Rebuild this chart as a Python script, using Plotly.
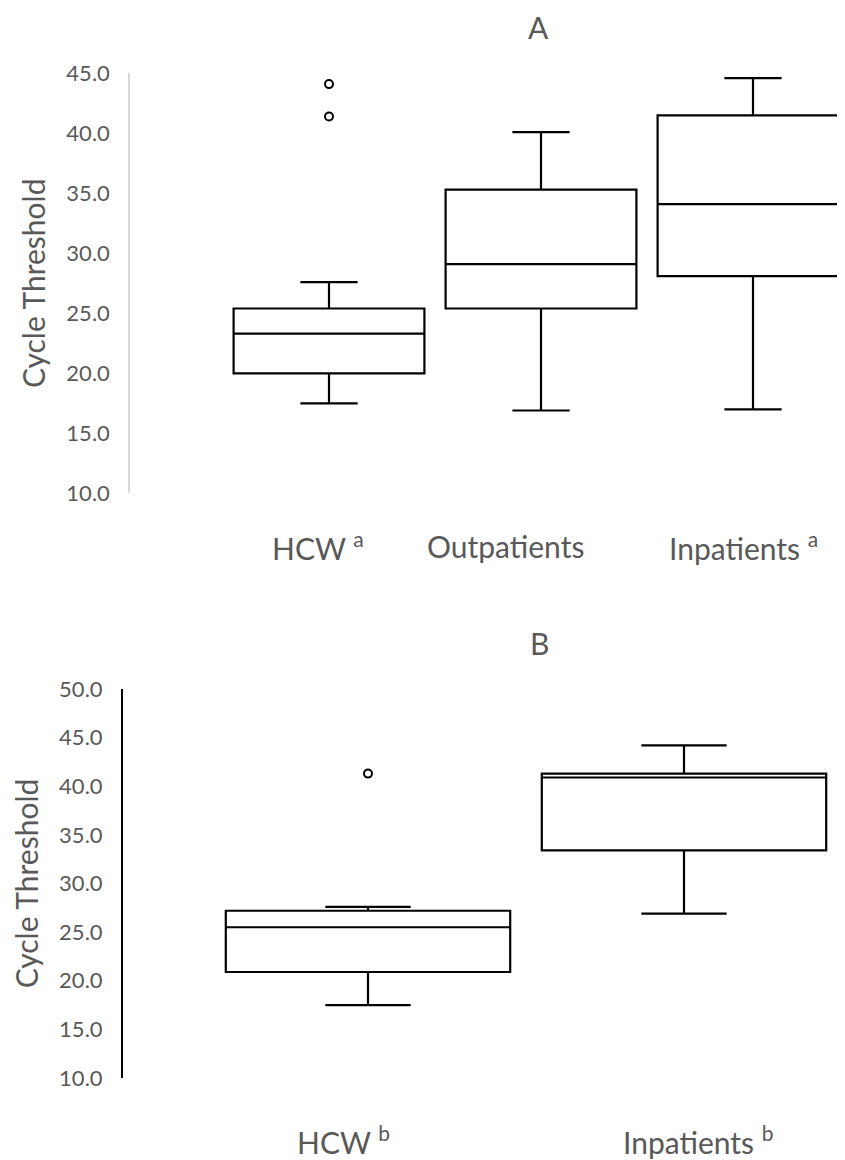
import plotly.graph_objects as go

# ---------------- data ----------------
# Panel A
a_groups = ["HCW", "Outpatients", "Inpatients"]
a_labels = ["HCW <sup>a</sup>", "Outpatients", "Inpatients <sup>a</sup>"]
a_q1 = [20.0, 25.4, 28.1]
a_median = [23.3, 29.1, 34.1]
a_q3 = [25.4, 35.3, 41.5]
a_lower = [17.5, 16.9, 17.0]
a_upper = [27.6, 40.1, 44.6]
a_outlier_group = ["HCW", "HCW"]
a_outliers = [44.1, 41.4]

# Panel B
b_groups = ["HCW", "Inpatients"]
b_labels = ["HCW <sup>b</sup>", "Inpatients <sup>b</sup>"]
b_q1 = [20.9, 33.4]
b_median = [25.5, 40.9]
b_q3 = [27.2, 41.3]
b_lower = [17.5, 26.9]
b_upper = [27.6, 44.2]
b_outlier_group = ["HCW"]
b_outliers = [41.3]

a_ticks = [10, 15, 20, 25, 30, 35, 40, 45]
b_ticks = [10, 15, 20, 25, 30, 35, 40, 45, 50]

# ---------------- style ----------------
FONT = "Lato"
GREY = "#595959"
PAGE_W, PAGE_H = 845, 1160
OFF = 8                      # default body margin of the html page
W, H = PAGE_W - OFF, PAGE_H - OFF


def py(p):
    """page pixel (from top) -> paper y"""
    return 1 - (p - OFF) / H


def px(p):
    return (p - OFF) / W


fig = go.Figure()


def add_panel(groups, q1, med, q3, lo, hi, og, ov, xa, ya):
    pos = {g: i for i, g in enumerate(groups)}
    for i, g in enumerate(groups):
        fig.add_trace(go.Box(
            x=[pos[g]], q1=[q1[i]], median=[med[i]], q3=[q3[i]],
            lowerfence=[lo[i]], upperfence=[hi[i]],
            width=0.9, whiskerwidth=0.3, boxpoints=False,
            line=dict(color="black", width=2.2), fillcolor="rgba(255,255,255,0)",
            xaxis=xa, yaxis=ya, showlegend=False, hoverinfo="skip",
        ))
    fig.add_trace(go.Scatter(
        x=[pos[g] for g in og], y=ov, mode="markers",
        marker=dict(symbol="circle-open", size=8, color="black", line=dict(width=2)),
        xaxis=xa, yaxis=ya, showlegend=False, hoverinfo="skip",
    ))


add_panel(a_groups, a_q1, a_median, a_q3, a_lower, a_upper,
          a_outlier_group, a_outliers, "x", "y")
add_panel(b_groups, b_q1, b_median, b_q3, b_lower, b_upper,
          b_outlier_group, b_outliers, "x2", "y2")

# axis geometry (page pixels)
A_top, A_bot, A_left = 73.3, 493.3, 130
B_top, B_bot, B_left = 689, 1078, 123
A_c0, A_step = 329, 212
B_c0, B_step = 368, 316

tickfont = dict(family=FONT, size=22, color=GREY)
titlefont = dict(family=FONT, size=30, color=GREY)

fig.update_layout(
    width=W, height=H,
    margin=dict(l=0, r=0, t=0, b=0, autoexpand=False),
    plot_bgcolor="white", paper_bgcolor="white",
    boxmode="overlay",
    xaxis=dict(domain=[px(A_left), 1], anchor="y", automargin=False,
               range=[(A_left - A_c0) / A_step, (PAGE_W - A_c0) / A_step],
               showticklabels=False, showgrid=False, zeroline=False, showline=False),
    yaxis=dict(domain=[py(A_bot), py(A_top)], anchor="x", automargin=False,
               range=[10, 45], tickvals=a_ticks, tickformat=".1f",
               showgrid=False, zeroline=False, showline=True, linecolor="#d9d9d9",
               linewidth=1.5, ticks="", ticklabelstandoff=14, tickfont=tickfont,
               title=dict(text="Cycle Threshold", font=titlefont, standoff=12)),
    xaxis2=dict(domain=[px(B_left), 1], anchor="y2", automargin=False,
                range=[(B_left - B_c0) / B_step, (PAGE_W - B_c0) / B_step],
                showticklabels=False, showgrid=False, zeroline=False, showline=False),
    yaxis2=dict(domain=[py(B_bot), py(B_top)], anchor="x2", automargin=False,
                range=[10, 50], tickvals=b_ticks, tickformat=".1f",
                showgrid=False, zeroline=False, showline=True, linecolor="black",
                linewidth=2, ticks="", ticklabelstandoff=14, tickfont=tickfont,
                title=dict(text="Cycle Threshold", font=titlefont, standoff=12)),
)

# category labels (slight offsets as in the original)
a_label_shift = [-0.052, -0.167, -0.047]
b_label_shift = [-0.076, 0.045]
for i, lab in enumerate(a_labels):
    fig.add_annotation(x=i + a_label_shift[i], y=py(546), xref="x", yref="paper",
                       text=lab, showarrow=False, font=titlefont, xanchor="center", yanchor="middle")
for i, lab in enumerate(b_labels):
    fig.add_annotation(x=i + b_label_shift[i], y=py(1140), xref="x2", yref="paper",
                       text=lab, showarrow=False, font=titlefont, xanchor="center", yanchor="middle")

# panel titles
fig.add_annotation(x=px(538), y=py(27), xref="paper", yref="paper", text="A",
                   showarrow=False, font=titlefont, xanchor="center", yanchor="middle")
fig.add_annotation(x=px(539), y=py(643), xref="paper", yref="paper", text="B",
                   showarrow=False, font=titlefont, xanchor="center", yanchor="middle")

fig.write_html("out.html")
